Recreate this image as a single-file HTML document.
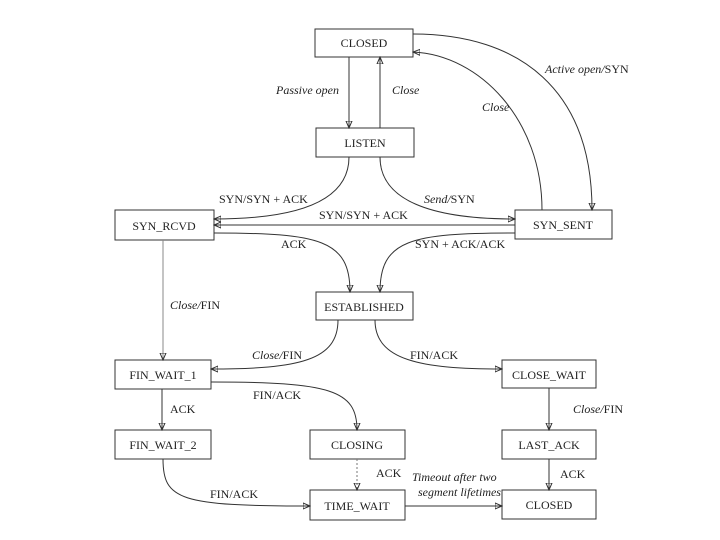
<!DOCTYPE html>
<html><head><meta charset="utf-8"><style>
html,body{margin:0;padding:0;background:#fff;}
svg{display:block;}
text{font-family:"Liberation Serif",serif;font-size:12px;fill:#222;}
.i{font-style:italic;}
rect{fill:#fff;stroke:#333;stroke-width:1;}
path,line{fill:none;stroke:#333;stroke-width:1;}
</style></head><body>
<svg width="720" height="540" viewBox="0 0 720 540">
<defs><marker id="a" markerWidth="8" markerHeight="8" refX="7" refY="4" orient="auto" markerUnits="userSpaceOnUse"><path d="M0,1 L7,4 L0,7 Z" fill="#333" stroke="none"/></marker></defs>
<!-- boxes -->
<rect x="315" y="29" width="98" height="28"/>
<rect x="316" y="128" width="98" height="29"/>
<rect x="115" y="210" width="99" height="30"/>
<rect x="515" y="210" width="97" height="29"/>
<rect x="316" y="292" width="97" height="28"/>
<rect x="115" y="360" width="96" height="29"/>
<rect x="115" y="430" width="96" height="29"/>
<rect x="310" y="430" width="95" height="29"/>
<rect x="310" y="490" width="95" height="30"/>
<rect x="502" y="360" width="94" height="28"/>
<rect x="502" y="430" width="94" height="29"/>
<rect x="502" y="490" width="94" height="29"/>
<g text-anchor="middle">
<text x="364" y="47">CLOSED</text>
<text x="365" y="147">LISTEN</text>
<text x="164" y="230">SYN_RCVD</text>
<text x="563" y="229">SYN_SENT</text>
<text x="364" y="311">ESTABLISHED</text>
<text x="163" y="379">FIN_WAIT_1</text>
<text x="163" y="449">FIN_WAIT_2</text>
<text x="357" y="449">CLOSING</text>
<text x="357" y="510">TIME_WAIT</text>
<text x="549" y="379">CLOSE_WAIT</text>
<text x="549" y="449">LAST_ACK</text>
<text x="549" y="509">CLOSED</text>
</g>
<!-- connectors -->
<line x1="349" y1="57" x2="349" y2="128" marker-end="url(#a)"/>
<line x1="380" y1="128" x2="380" y2="57" marker-end="url(#a)"/>
<path d="M413,34 C520,34 592,90 592,210" marker-end="url(#a)"/>
<path d="M542,210 C542,120 480,55 413,52" marker-end="url(#a)"/>
<path d="M349,157 C349,200 300,219 214,219" marker-end="url(#a)"/>
<path d="M380,157 C380,200 430,219 515,219" marker-end="url(#a)"/>
<line x1="515" y1="225" x2="214" y2="225" marker-end="url(#a)"/>
<path d="M214,233 C320,233 350,240 350,292" marker-end="url(#a)"/>
<path d="M515,233 C410,233 380,240 380,292" marker-end="url(#a)"/>
<line x1="163" y1="240" x2="163" y2="360" marker-end="url(#a)" style="stroke:#888"/>
<path d="M338,320 C338,360 300,369 211,369" marker-end="url(#a)"/>
<path d="M375,320 C375,360 420,369 502,369" marker-end="url(#a)"/>
<path d="M211,382 C330,382 357,390 357,430" marker-end="url(#a)"/>
<line x1="162" y1="389" x2="162" y2="430" marker-end="url(#a)"/>
<line x1="549" y1="388" x2="549" y2="430" marker-end="url(#a)"/>
<line x1="357" y1="459" x2="357" y2="490" marker-end="url(#a)" style="stroke-dasharray:2,2;stroke:#777"/>
<path d="M163,459 C163,500 180,506 310,506" marker-end="url(#a)"/>
<line x1="405" y1="506" x2="502" y2="506" marker-end="url(#a)"/>
<line x1="549" y1="459" x2="549" y2="490" marker-end="url(#a)"/>
<!-- labels -->
<text x="276" y="94" class="i" font-size="11">Passive open</text>
<text x="392" y="94" class="i" font-size="11">Close</text>
<text x="545" y="73" font-size="11"><tspan class="i">Active open/</tspan>SYN</text>
<text x="482" y="111" class="i" font-size="11">Close</text>
<text x="219" y="203">SYN/SYN + ACK</text>
<text x="424" y="203"><tspan class="i">Send/</tspan>SYN</text>
<text x="319" y="219">SYN/SYN + ACK</text>
<text x="281" y="248">ACK</text>
<text x="415" y="248">SYN + ACK/ACK</text>
<text x="170" y="309"><tspan class="i">Close/</tspan>FIN</text>
<text x="252" y="359"><tspan class="i">Close/</tspan>FIN</text>
<text x="410" y="359">FIN/ACK</text>
<text x="253" y="399">FIN/ACK</text>
<text x="170" y="413">ACK</text>
<text x="573" y="413"><tspan class="i">Close/</tspan>FIN</text>
<text x="376" y="477">ACK</text>
<text x="210" y="498">FIN/ACK</text>
<text x="412" y="481" class="i" font-size="10">Timeout after two</text>
<text x="418" y="496" class="i" font-size="10">segment lifetimes</text>
<text x="560" y="478">ACK</text>
</g>
</svg>
</body></html>
